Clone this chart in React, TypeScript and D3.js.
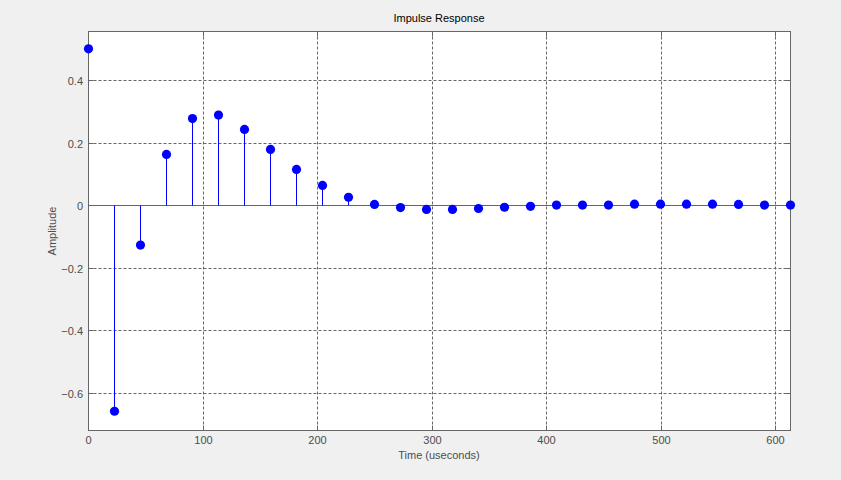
import React from "react";
import * as d3 from "d3";

const dt = 22.7;
const amplitudes = [
  0.5, -0.66, -0.128, 0.162, 0.277, 0.288, 0.242, 0.178, 0.114, 0.063,
  0.025, 0.002, -0.008, -0.014, -0.014, -0.011, -0.007, -0.004, 0.0, 0.0,
  0.0, 0.003, 0.003, 0.003, 0.003, 0.002, 0.0, 0.0,
];
const xTicks = [0, 100, 200, 300, 400, 500, 600];
const yTicks = [-0.6, -0.4, -0.2, 0, 0.2, 0.4];
const xDomain = [0, 27 * dt];
const yDomain = [-0.7216, 0.5556];

const W = 841;
const H = 480;
const L = 88.5, R = 790.5, T = 31.5, B = 430.5;

export default function App() {
  const x = d3.scaleLinear().domain(xDomain).range([L - 0.5, R - 0.5]);
  const y = d3.scaleLinear().domain(yDomain).range([B, T]);
  const font = "Arial, 'Liberation Sans', sans-serif";
  const axisColor = "#666666";
  const textColor = "#4d4d4d";
  const pts = amplitudes.map((v, i) => ({ t: i * dt, v }));
  const px = (t: number) => Math.round(x(t)) + 0.5;
  const y0 = Math.round(y(0)) + 0.5;
  return (
    <svg
      width={W}
      height={H}
      style={{ position: "fixed", left: 0, top: 0, background: "#f0f0f0" }}
      fontFamily={font}
    >
      <rect x={0} y={0} width={W} height={H} fill="#f0f0f0" />
      <rect x={L} y={T} width={R - L} height={B - T} fill="#ffffff" />
      {/* grid */}
      {xTicks.map((t) => (
        <line
          key={"gx" + t}
          x1={px(t)}
          x2={px(t)}
          y1={T}
          y2={B}
          stroke={axisColor}
          strokeDasharray="3,2"
          strokeWidth={1}
        />
      ))}
      {yTicks.map((t) => (
        <line
          key={"gy" + t}
          x1={L}
          x2={R}
          y1={Math.round(y(t)) + 0.5}
          y2={Math.round(y(t)) + 0.5}
          stroke={axisColor}
          strokeDasharray="3,2"
          strokeWidth={1}
        />
      ))}
      {/* tick marks */}
      {xTicks.map((t) => (
        <g key={"tx" + t}>
          <line x1={px(t)} x2={px(t)} y1={B} y2={B - 5} stroke={axisColor} />
          <line x1={px(t)} x2={px(t)} y1={T} y2={T + 5} stroke={axisColor} />
          <text x={px(t)} y={444} textAnchor="middle" fontSize={11} fill={textColor}>
            {t}
          </text>
        </g>
      ))}
      {yTicks.map((t) => {
        const py = Math.round(y(t)) + 0.5;
        return (
          <g key={"ty" + t}>
            <line x1={L} x2={L + 5} y1={py} y2={py} stroke={axisColor} />
            <line x1={R} x2={R - 5} y1={py} y2={py} stroke={axisColor} />
            <text x={83} y={py + 4} textAnchor="end" fontSize={11} fill={textColor}>
              {t === 0 ? "0" : d3.format(".1f")(t)}
            </text>
          </g>
        );
      })}
      {/* baseline */}
      <line x1={L} x2={R} y1={y0} y2={y0} stroke={axisColor} strokeWidth={1} />
      {/* stems */}
      {pts.map((p, i) => (
        <path
          key={"s" + i}
          d={`M${px(p.t)},${y0}V${y(p.v)}`}
          fill="none"
          style={{ stroke: "#0000ff", strokeWidth: 1 }}
        />
      ))}
      {/* axes box */}
      <rect x={L} y={T} width={R - L} height={B - T} fill="none" stroke={axisColor} strokeWidth={1} />
      {/* markers */}
      {pts.map((p, i) => (
        <circle key={"m" + i} cx={px(p.t)} cy={y(p.v)} r={4.6} fill="#0000ff" />
      ))}
      <text x={439} y={22} textAnchor="middle" fontSize={11} fill="#000000">
        Impulse Response
      </text>
      <text x={439} y={459} textAnchor="middle" fontSize={11} fill={textColor}>
        Time (useconds)
      </text>
      <text
        transform={`translate(56, ${(T + B) / 2}) rotate(-90)`}
        textAnchor="middle"
        fontSize={11}
        fill={textColor}
      >
        Amplitude
      </text>
    </svg>
  );
}
